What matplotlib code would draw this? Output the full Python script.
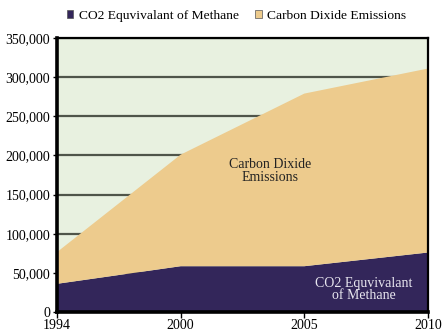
import matplotlib
matplotlib.use("Agg")
import matplotlib.pyplot as plt
from matplotlib.patches import Patch
from matplotlib.ticker import FuncFormatter

years = ["1994", "2000", "2005", "2010"]
methane = [36000, 58500, 58500, 76000]
carbon_dioxide = [40500, 142500, 220500, 235000]

methane_color = "#33265a"
co2_color = "#edcb8d"
bg_color = "#e8f1e0"

plt.rcParams["font.family"] = ["Liberation Serif", "DejaVu Serif"]

fig = plt.figure(figsize=(4.42, 3.35), dpi=100)
ax = fig.add_axes([57 / 442, 1 - 312 / 335, (428 - 57) / 442, (312 - 38) / 335])
ax.set_facecolor(bg_color)

x = list(range(len(years)))
ax.stackplot(x, methane, carbon_dioxide, colors=[methane_color, co2_color],
             linewidth=0, zorder=2)

ax.set_xlim(0, len(years) - 1)
ax.set_ylim(0, 350000)
ax.set_yticks(range(0, 350001, 50000))
ax.yaxis.set_major_formatter(FuncFormatter(lambda v, p: f"{int(v):,}"))
ax.set_xticks(x)
ax.set_xticklabels(years)
ax.grid(axis="y", color="#4f554a", linewidth=1.6, zorder=1)
ax.set_axisbelow(True)

for side in ["left", "bottom"]:
    ax.spines[side].set_linewidth(2.6)
for side in ["right", "top"]:
    ax.spines[side].set_linewidth(1.6)
for s in ax.spines.values():
    s.set_color("black")
    s.set_zorder(5)

ax.tick_params(axis="both", labelsize=10, colors="black", width=1)
ax.tick_params(axis="y", length=3, pad=2)
ax.tick_params(axis="x", length=4, pad=1)

ax.text(1.72, 180000, "Carbon Dixide\nEmissions", ha="center", va="center",
        fontsize=10, color="#222222", linespacing=0.95, zorder=4)
ax.text(2.48, 29000, "CO2 Equvivalant\nof Methane", ha="center", va="center",
        fontsize=10, color="#e8e6ef", linespacing=0.95, zorder=4)

handles = [Patch(facecolor=methane_color, edgecolor="#555555", linewidth=0.5),
           Patch(facecolor=co2_color, edgecolor="#555555", linewidth=0.5)]
fig.legend(handles, ["CO2 Equvivalant of Methane", "Carbon Dixide Emissions"],
           loc="center", bbox_to_anchor=(0.535, 0.952), ncol=2, frameon=False,
           fontsize=9.7, handlelength=0.5, handleheight=0.5, handletextpad=0.4,
           columnspacing=1.2)

fig.savefig("out.png", dpi=100)
